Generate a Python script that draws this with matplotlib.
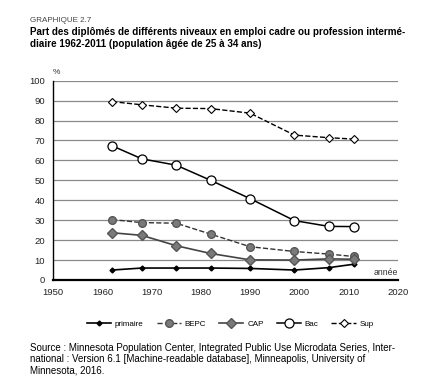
import matplotlib.pyplot as plt

plt.rcParams['font.family'] = ['Liberation Sans', 'DejaVu Sans']

# données
annees = [1962, 1968, 1975, 1982, 1990, 1999, 2006, 2011]
primaire = [5.0, 6.0, 6.0, 6.0, 5.8, 5.0, 6.2, 7.9]
bepc = [30.3, 28.8, 28.5, 23.0, 16.7, 14.3, 13.0, 11.8]
cap = [23.7, 22.4, 17.2, 13.3, 10.1, 10.0, 10.6, 10.4]
bac = [67.3, 60.8, 57.6, 50.0, 40.8, 29.8, 26.9, 26.8]
sup = [89.5, 87.9, 86.2, 86.0, 83.7, 72.7, 71.4, 70.7]

xticks = [1950, 1960, 1970, 1980, 1990, 2000, 2010, 2020]
yticks = [0, 10, 20, 30, 40, 50, 60, 70, 80, 90, 100]

fig = plt.figure(figsize=(4.43, 3.87), dpi=100)
ax = fig.add_axes([0.12, 0.2765, 0.778, 0.515])
ax.set_xlim(1950, 2020)
ax.set_ylim(0, 100)

# quadrillage horizontal
for y in yticks[1:]:
    ax.axhline(y, color='#8a8a8a', lw=0.9, zorder=0)

gris = '#7a7a7a'
ax.plot(annees, primaire, '-', color='black', lw=1.2, marker='D', ms=2.5,
        mfc='black', mec='black', label='primaire')
ax.plot(annees, bepc, '--', color='#333333', lw=1.0, marker='o', ms=5.5,
        mfc=gris, mec='#555555', label='BEPC')
ax.plot(annees, cap, '-', color='#444444', lw=1.2, marker='D', ms=5.5,
        mfc=gris, mec='#555555', label='CAP')
ax.plot(annees, bac, '-', color='black', lw=1.1, marker='o', ms=6.5,
        mfc='white', mec='black', mew=0.9, label='Bac')
ax.plot(annees, sup, '--', color='black', lw=1.0, marker='D', ms=4,
        mfc='white', mec='black', mew=0.8, label='Sup')

for s in ['top', 'right']:
    ax.spines[s].set_visible(False)
ax.spines['left'].set_linewidth(1.0)
ax.spines['bottom'].set_linewidth(1.6)
ax.set_xticks(xticks)
ax.set_yticks(yticks)
ax.tick_params(length=0, labelsize=6.8, colors='#222222')
ax.tick_params(axis='x', pad=6)
ax.tick_params(axis='y', pad=6)

ax.text(0.0, 1.035, '%', transform=ax.transAxes, fontsize=6, color='#333333')
ax.text(1.0, 0.015, 'année', transform=ax.transAxes, fontsize=6.3,
        ha='right', va='bottom', color='#333333')

fig.text(0.068, 0.944, 'GRAPHIQUE 2.7', fontsize=5.8, color='#444444')
fig.text(0.068, 0.909, 'Part des diplômés de différents niveaux en emploi cadre ou profession intermé-',
         fontsize=7.1, fontweight='bold')
fig.text(0.068, 0.879, 'diaire 1962-2011 (population âgée de 25 à 34 ans)',
         fontsize=7.1, fontweight='bold')

fig.legend(loc='center', bbox_to_anchor=(0.52, 0.162), ncol=5, frameon=False,
           fontsize=5.8, handlelength=3.0, columnspacing=1.6, handletextpad=0.5)

src = ['Source : Minnesota Population Center, Integrated Public Use Microdata Series, Inter-',
       'national : Version 6.1 [Machine-readable database], Minneapolis, University of',
       'Minnesota, 2016.']
for i, line in enumerate(src):
    fig.text(0.068, 0.093 - i * 0.029, line, fontsize=7.0)

fig.savefig('out.png', dpi=100)
